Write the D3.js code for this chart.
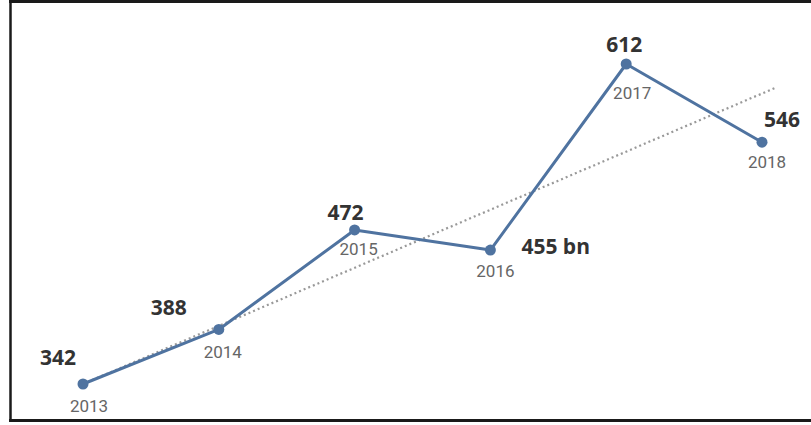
<!DOCTYPE html>
<html>
<head>
<meta charset="utf-8">
<script src="https://cdn.jsdelivr.net/npm/d3@7"></script>
<style>
  html, body { margin: 0; padding: 0; background: #fff; }
  svg { display: block; }
  .value { font-family: "Open Sans", sans-serif; font-weight: 700; font-size: 21px; fill: #333; }
  .year { font-family: "Roboto", sans-serif; font-size: 17px; fill: #666; }
</style>
</head>
<body>
<svg id="chart" width="811" height="425"></svg>
<script>
// data
const years = [2013, 2014, 2015, 2016, 2017, 2018]
const values = [342, 388, 472, 455, 612, 546]
const valueLabels = ['342', '388', '472', '455 bn', '612', '546']
// dotted trend, endpoints as drawn
const trendYears = [2013, 2018.1]
const trendValues = [342, 592]

// label placement relative to each point (layout only)
const valueOffsets = [[-25, -19, 'middle'], [-50, -14, 'middle'], [-9, -10, 'middle'], [31, 4, 'start'], [-2, -12, 'middle'], [20, -15, 'middle']]
const yearOffsets = [[6, 28], [4, 29], [4, 25], [5, 27], [6, 35], [5, 26]]

const svg = d3.select('#chart')

const x = d3.scaleLinear().domain([2013, 2018]).range([83, 762])
const y = d3.scaleLinear().domain([342, 612]).range([384, 64])

const points = years.map((yr, i) => ({ year: yr, value: values[i], label: valueLabels[i] }))
const trend = trendYears.map((yr, i) => ({ year: yr, value: trendValues[i] }))

// Frame: left, top and bottom rules
const frame = svg.append('g').attr('stroke', '#1a1a1a').attr('fill', 'none')
frame.append('line').attr('x1', 10.5).attr('x2', 10.5).attr('y1', 0).attr('y2', 422).attr('stroke-width', 2.5)
frame.append('line').attr('x1', 9).attr('x2', 811).attr('y1', 1.5).attr('y2', 1.5).attr('stroke-width', 3)
frame.append('line').attr('x1', 9).attr('x2', 811).attr('y1', 420.5).attr('y2', 420.5).attr('stroke-width', 3)

const line = d3.line().x(d => x(d.year)).y(d => y(d.value))

// Dotted trend
svg.append('path')
  .datum(trend)
  .attr('d', line)
  .attr('fill', 'none')
  .attr('stroke', '#999')
  .attr('stroke-width', 2.2)
  .attr('stroke-dasharray', '2 3')

// Main series
svg.append('path')
  .datum(points)
  .attr('d', line)
  .attr('fill', 'none')
  .attr('stroke', '#4f73a0')
  .attr('stroke-width', 3)
  .attr('stroke-linejoin', 'round')

svg.selectAll('.dot')
  .data(points)
  .enter().append('circle')
  .attr('class', 'dot')
  .attr('cx', d => x(d.year))
  .attr('cy', d => y(d.value))
  .attr('r', 5.5)
  .attr('fill', '#4f73a0')

svg.selectAll('.value')
  .data(points)
  .enter().append('text')
  .attr('class', 'value')
  .attr('x', (d, i) => x(d.year) + valueOffsets[i][0])
  .attr('y', (d, i) => y(d.value) + valueOffsets[i][1])
  .attr('text-anchor', (d, i) => valueOffsets[i][2])
  .text(d => d.label)

svg.selectAll('.year')
  .data(points)
  .enter().append('text')
  .attr('class', 'year')
  .attr('x', (d, i) => x(d.year) + yearOffsets[i][0])
  .attr('y', (d, i) => y(d.value) + yearOffsets[i][1])
  .attr('text-anchor', 'middle')
  .text(d => d.year)
</script>
</body>
</html>
